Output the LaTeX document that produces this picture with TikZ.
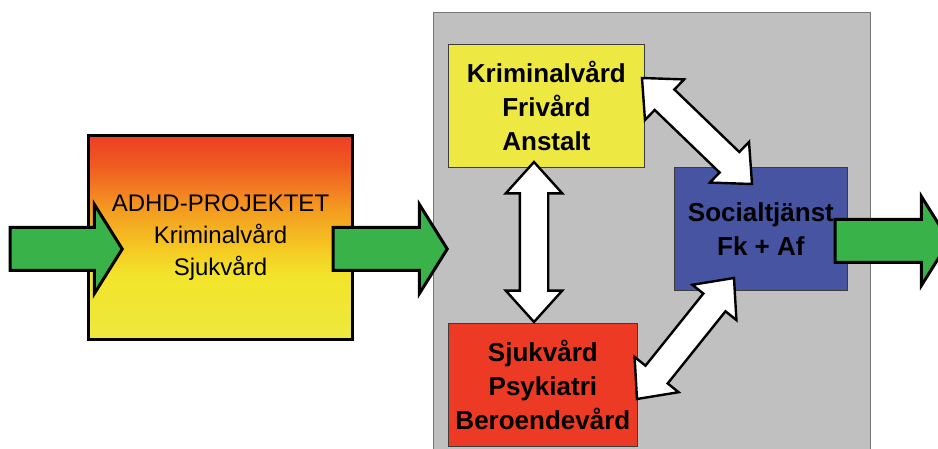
\documentclass[tikz,border=0pt]{standalone}
\usepackage{fontspec}
\setmainfont{Liberation Sans}
\usetikzlibrary{shapes.arrows,calc}

\definecolor{panelgray}{RGB}{192,192,192}
\definecolor{paneledge}{RGB}{118,118,118}
\definecolor{kvyellow}{RGB}{238,232,66}
\definecolor{svred}{RGB}{237,58,36}
\definecolor{stblue}{RGB}{70,84,162}
\definecolor{flowgreen}{RGB}{57,178,74}
\definecolor{boxedge}{RGB}{60,60,60}
% colours of the project box gradient, bottom to top
\definecolor{gA}{RGB}{238,232,62}
\definecolor{gB}{RGB}{242,228,42}
\definecolor{gC}{RGB}{245,200,35}
\definecolor{gD}{RGB}{244,155,32}
\definecolor{gE}{RGB}{240,92,34}
\definecolor{gF}{RGB}{238,62,36}

\pgfdeclareverticalshading{projshade}{100bp}{%
  color(0bp)=(gA); color(25bp)=(gA); color(41bp)=(gB); color(47.5bp)=(gC);
  color(57bp)=(gD); color(67.5bp)=(gE); color(75bp)=(gF); color(100bp)=(gF)}

\begin{document}
\begin{tikzpicture}[x=1pt,y=-1pt,
  agency/.style={draw=boxedge, line width=0.8pt, inner sep=0pt, anchor=north west,
    align=center, font=\fontsize{26}{34}\selectfont\bfseries},
  flow/.style={single arrow, draw=black, line width=3pt, fill=flowgreen,
    inner xsep=0pt, inner ysep=20pt, single arrow head extend=23pt,
    single arrow tip angle=116, minimum width=0pt, minimum height=112pt, anchor=tip},
  link/.style={double arrow, draw=black, line width=2.4pt, fill=white,
    inner xsep=0pt, inner ysep=13pt, double arrow head extend=14pt,
    double arrow tip angle=84, minimum width=0pt}
]
\useasboundingbox (0,0) rectangle (938,449);

% grey panel holding the cooperating agencies
\node[draw=paneledge, line width=1.2pt, fill=panelgray, anchor=north west,
  minimum width=437pt, minimum height=450pt, inner sep=0pt] (panel) at (433,12) {};

% project box with the red-to-yellow gradient
\node[draw=black, line width=3pt, shade, shading=projshade, anchor=north west,
  minimum width=264pt, minimum height=204pt, inner sep=0pt, align=center,
  font=\fontsize{24}{32}\selectfont] (proj) at (87,134.5)
  {ADHD-PROJEKTET\\Kriminalvård\\Sjukvård};

% agencies
\node[agency, fill=kvyellow, minimum width=196pt, minimum height=123pt] (kv) at (448,44)
  {Kriminalvård\\Frivård\\Anstalt};
\node[agency, fill=svred, minimum width=189pt, minimum height=123pt] (sv) at (448,323)
  {Sjukvård\\Psykiatri\\Beroendevård};
\node[agency, fill=stblue, minimum width=173pt, minimum height=123pt] (st) at (674,167)
  {Socialtjänst\\Fk + Af};

% tips of the green flow arrows
\coordinate (inTip) at (124,249);
\coordinate (midTip) at (449,249);
\coordinate (outTip) at (951,241);

\node[flow] (inflow) at (inTip) {};
\node[flow, minimum height=114pt] (midflow) at (midTip) {};
\node[flow, minimum height=114pt] (outflow) at (outTip) {};

% ends of the white two-way links
\coordinate (kvS) at (534,162);
\coordinate (svN) at (534,322);
\coordinate (kvE) at (642,78);
\coordinate (stNW) at (752,184);
\coordinate (svE) at (637,399);
\coordinate (stSW) at (734,278);

\foreach \a/\b in {kvS/svN, kvE/stNW, svE/stSW}
  \path let \p1=($(\b)-(\a)$) in
    node[link, minimum height={veclen(\x1,\y1)}, rotate={atan2(\y1,\x1)}]
    at ($(\a)!0.5!(\b)$) {};
\end{tikzpicture}
\end{document}
